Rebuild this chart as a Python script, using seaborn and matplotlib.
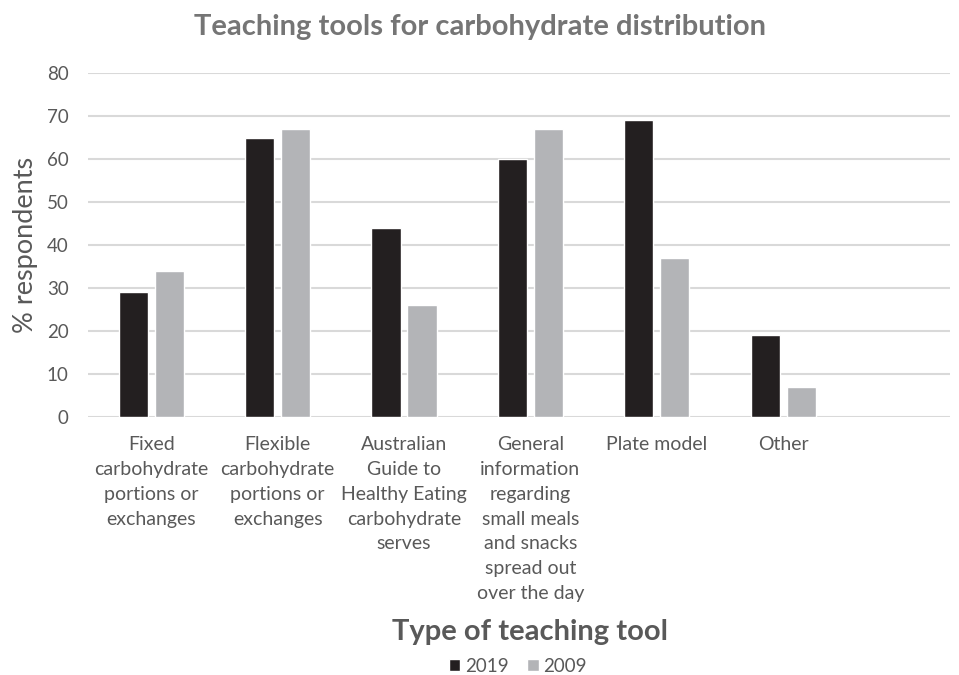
import seaborn as sns
import matplotlib.pyplot as plt
import pandas as pd

tools = ["Fixed\ncarbohydrate\nportions or\nexchanges",
         "Flexible\ncarbohydrate\nportions or\nexchanges",
         "Australian\nGuide to\nHealthy Eating\ncarbohydrate\nserves",
         "General\ninformation\nregarding\nsmall meals\nand snacks\nspread out\nover the day",
         "Plate model",
         "Other"]
years = ["2019", "2009"]
vals_2019 = [29, 65, 44, 60, 69, 19]
vals_2009 = [34, 67, 26, 67, 37, 7]
yticks = [0, 10, 20, 30, 40, 50, 60, 70, 80]

df = pd.DataFrame({
    "tool": tools * 2,
    "year": [years[0]] * len(tools) + [years[1]] * len(tools),
    "pct": vals_2019 + vals_2009,
})

sns.set_style("white")
plt.rcParams["font.family"] = ["Lato", "DejaVu Sans"]

fig = plt.figure(figsize=(9.59, 6.75), dpi=100)
ax = fig.add_axes([88 / 959, 1 - 417 / 675, (950 - 88) / 959, (417 - 73) / 675])

sns.barplot(data=df, x="tool", y="pct", hue="year", hue_order=years, order=tools,
            palette=["#231F20", "#B3B4B7"], width=0.57, gap=0.19, saturation=1,
            ax=ax, zorder=3)

ax.set_ylim(0, 80)
ax.set_xlim(-0.5, 6.32)
ax.set_yticks(yticks)
ax.yaxis.grid(True, color="#D9D9D9", linewidth=1.5, zorder=0)
ax.set_axisbelow(True)
for s in ax.spines.values():
    s.set_visible(False)
ax.tick_params(axis="y", length=0, labelsize=13.5, colors="#595959", pad=14)
ax.tick_params(axis="x", length=0, labelsize=14, colors="#595959", pad=14)
for lab in ax.get_xticklabels():
    lab.set_linespacing(1.55)
    lab.set_verticalalignment("top")

ax.set_ylabel("% respondents", fontsize=19.5, color="#595959", labelpad=6)
ax.set_xlabel("Type of teaching tool", fontsize=21, color="#595959",
              fontweight="bold")
ax.xaxis.set_label_coords((530 - 88) / 862, -(632 - 417) / 344, transform=ax.transAxes)
ax.xaxis.label.set_verticalalignment("center")

fig.text(0.5, 1 - 27 / 675, "Teaching tools for carbohydrate distribution",
         ha="center", va="center", fontsize=21, fontweight="bold", color="#757575")

handles, labels = ax.get_legend_handles_labels()
ax.legend(handles, labels, loc="center", bbox_to_anchor=(518 / 959, 1 - 666 / 675),
          bbox_transform=fig.transFigure, ncol=2, frameon=False, fontsize=13.5,
          handlelength=0.6, handleheight=0.6, handletextpad=0.25, columnspacing=1.0,
          labelcolor="#595959")

fig.savefig("out.png", dpi=100)
